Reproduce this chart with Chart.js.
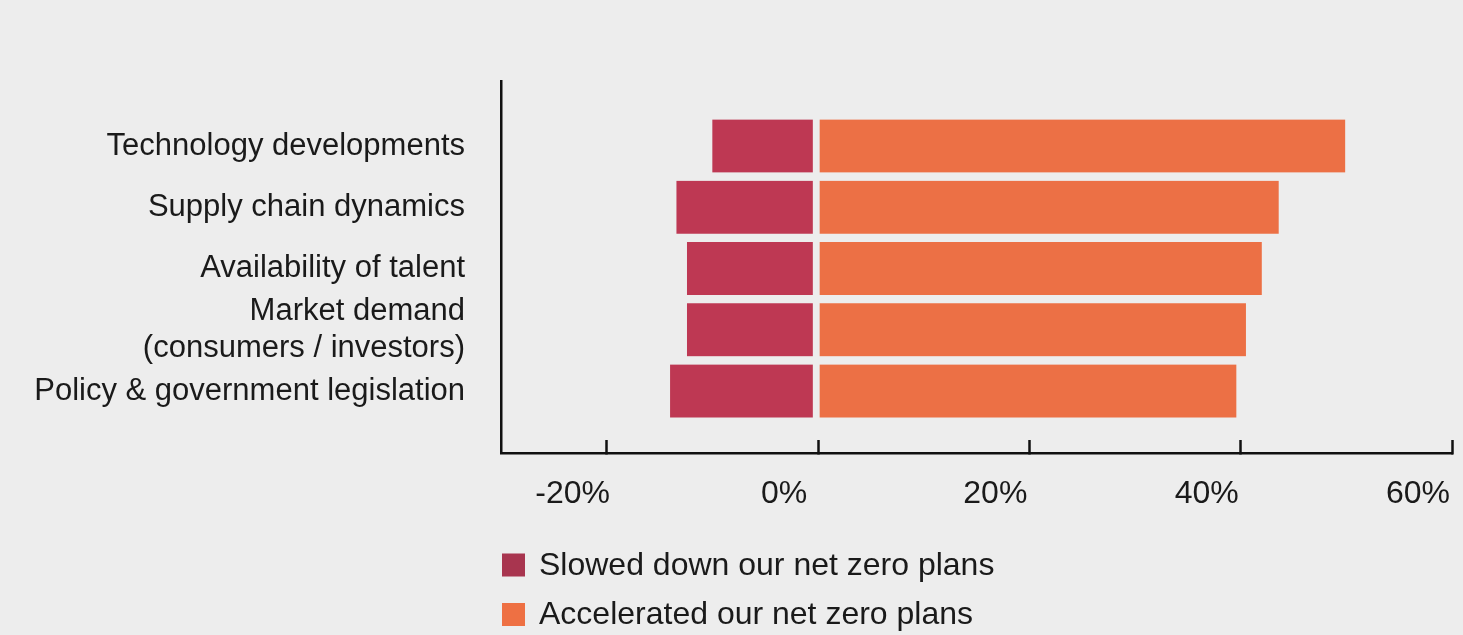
<!DOCTYPE html>
<html>
<head>
<meta charset="utf-8">
<title>Net zero plans</title>
<script src="https://cdn.jsdelivr.net/npm/chart.js@4/dist/chart.umd.min.js"></script>
<style>
  html, body { margin: 0; padding: 0; background: #ededed; }
  canvas { display: block; }
</style>
</head>
<body>
<canvas id="chart" width="1463" height="635"></canvas>
<script>
// Factors, top to bottom
const categories = [
  'Technology developments',
  'Supply chain dynamics',
  'Availability of talent',
  ['Market demand', '(consumers / investors)'],
  'Policy & government legislation'
];
// Share of respondents (%)
const slowedDown = [-10, -13.4, -12.4, -12.4, -14];
const accelerated = [49.9, 43.6, 42, 40.5, 39.6];
const seriesNames = ['Slowed down our net zero plans', 'Accelerated our net zero plans'];
const xTickValues = [-20, 0, 20, 40, 60];

const BG = '#ededed';
const INK = '#1a1a1a';
const FAMILY = '"Liberation Sans", Arial, Helvetica, sans-serif';
const FONT = { family: FAMILY, size: 32, weight: 'normal' };
const CAT_FONT = { family: FAMILY, size: 31, weight: 'normal', lineHeight: 1.19 };

// Two-row legend below the x axis
const stackedLegend = {
  id: 'stackedLegend',
  afterDraw(chart, args, opts) {
    const ctx = chart.ctx;
    const x0 = chart.chartArea.left;
    ctx.save();
    chart.data.datasets.forEach((ds, i) => {
      const cy = opts.top + i * opts.rowGap;
      ctx.fillStyle = opts.swatches[i];
      ctx.fillRect(x0 + 1, cy - 11.5, 23, 23);
      ctx.fillStyle = INK;
      ctx.font = `${FONT.weight} ${FONT.size}px ${FONT.family}`;
      ctx.textBaseline = 'middle';
      ctx.textAlign = 'left';
      ctx.fillText(ds.label, x0 + 38, cy + 1);
    });
    ctx.restore();
  }
};

const toPoints = (vals) => vals.map((v, i) => ({ x: v, y: i }));

new Chart(document.getElementById('chart'), {
  type: 'bar',
  data: {
    datasets: [
      {
        label: seriesNames[0],
        data: toPoints(slowedDown),
        backgroundColor: '#be3853',
        borderColor: BG,
        borderWidth: { top: 0, bottom: 0, left: 0, right: 5 },
        borderSkipped: false,
        barThickness: 53
      },
      {
        label: seriesNames[1],
        data: toPoints(accelerated),
        backgroundColor: '#ec7045',
        borderColor: BG,
        borderWidth: { top: 0, bottom: 0, left: 1.5, right: 0 },
        borderSkipped: false,
        barThickness: 53
      }
    ]
  },
  options: {
    responsive: false,
    animation: false,
    indexAxis: 'y',
    layout: { padding: { top: 81, left: 0, right: 11, bottom: 0 } },
    plugins: {
      legend: { display: false },
      tooltip: { enabled: false },
      stackedLegend: { top: 565, rowGap: 49.5, swatches: ['#a8354f', '#ee7043'] }
    },
    scales: {
      x: {
        type: 'linear',
        position: 'bottom',
        min: -30,
        max: 60,
        stacked: true,
        afterBuildTicks: (s) => { s.ticks = xTickValues.map((v) => ({ value: v })); },
        afterFit: (s) => { s.height = 182; s.paddingLeft = 0; s.paddingRight = 0; },
        ticks: {
          callback: (v) => v + '%',
          font: FONT,
          color: INK,
          padding: 35,
          labelOffset: -34,
          maxRotation: 0,
          autoSkip: false
        },
        grid: {
          drawOnChartArea: false,
          drawTicks: true,
          tickLength: -13,
          tickWidth: 2.5,
          tickColor: '#111'
        },
        border: { display: true, color: '#111', width: 2.5 }
      },
      y: {
        type: 'linear',
        position: 'left',
        min: -1.06,
        max: 5.01,
        reverse: true,
        stacked: true,
        offset: false,
        afterBuildTicks: (s) => { s.ticks = categories.map((c, i) => ({ value: i })); },
        afterFit: (s) => { s.width = 501; s.paddingTop = 0; s.paddingBottom = 0; },
        ticks: {
          callback: (v) => categories[v],
          font: CAT_FONT,
          color: INK,
          padding: 36,
          autoSkip: false
        },
        grid: { drawOnChartArea: false, drawTicks: false, offset: false },
        border: { display: true, color: '#111', width: 2.5 }
      }
    }
  },
  plugins: [stackedLegend]
});
</script>
</body>
</html>
